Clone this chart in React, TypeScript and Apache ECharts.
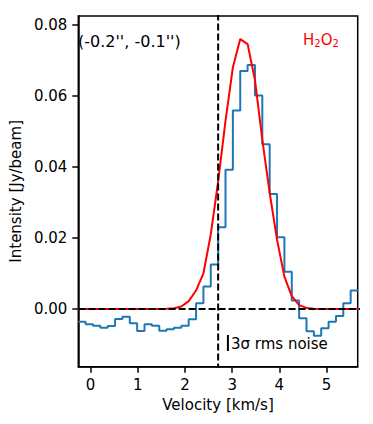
import React, { useEffect, useRef } from "react";
import * as echarts from "echarts";

// channel left edges (km/s)
const velocity = [
  -0.261, -0.105, 0.051, 0.207, 0.363, 0.519, 0.675, 0.831, 0.987, 1.143,
  1.299, 1.455, 1.611, 1.767, 1.923, 2.079, 2.235, 2.391, 2.547, 2.703,
  2.859, 3.015, 3.171, 3.327, 3.483, 3.639, 3.795, 3.951, 4.107, 4.263,
  4.419, 4.575, 4.731, 4.887, 5.043, 5.199, 5.355, 5.511, 5.667,
];

// observed spectrum (Jy/beam)
const observed = [
  -0.0036, -0.0043, -0.0047, -0.0053, -0.0048, -0.0028, -0.0022, -0.004, -0.0062, -0.0043,
  -0.0047, -0.0061, -0.0057, -0.0053, -0.0047, -0.0029, 0.0016, 0.0063, 0.0125, 0.023,
  0.0392, 0.0559, 0.067, 0.0687, 0.0601, 0.0464, 0.0324, 0.0202, 0.0105, 0.0024,
  -0.0026, -0.0063, -0.0075, -0.0054, -0.0036, -0.002, 0.0016, 0.0052, 0.0052,
];

// model fit (Jy/beam)
const model = [
  0, 0, 0, 0, 0, 0, 0, 0, 0, 0,
  0, 0, 0.00005, 0.0002, 0.0007, 0.0022, 0.0052, 0.010, 0.021, 0.0359,
  0.053, 0.068, 0.076, 0.0746, 0.0645, 0.0476, 0.0327, 0.0195, 0.0091, 0.0036,
  0.0011, 0.0003, 0.0001, 0, 0, 0, 0, 0, 0,
];

const systemicVelocity = 2.703;
const zeroLevel = 0;
const noiseBarX = 2.91;
const noiseBarTop = -0.0073;
const noiseBarBottom = -0.0118;

const xTicks = [0, 1, 2, 3, 4, 5];
const yTicks = [0, 0.02, 0.04, 0.06, 0.08];

const FONT = "DejaVu Sans";

export default function App() {
  const ref = useRef<HTMLDivElement>(null);
  useEffect(() => {
    if (!ref.current) return;
    const chart = echarts.init(ref.current, null, { renderer: "svg" });
    const obsData = velocity.map((v, i) => [v, observed[i]]);
    const modData = velocity.map((v, i) => [v, model[i]]);
    chart.setOption({
      animation: false,
      backgroundColor: "#fff",
      grid: {
        left: 74.5,
        top: 16,
        right: 15.3,
        bottom: 57.3,
        show: true,
        borderColor: "#000",
        borderWidth: 1.5,
        backgroundColor: "transparent",
        containLabel: false,
      },
      xAxis: {
        type: "value",
        min: -0.26,
        max: 5.66,
        name: "Velocity [km/s]",
        nameLocation: "middle",
        nameGap: 30,
        nameTextStyle: { fontFamily: FONT, fontSize: 15, color: "#000" },
        axisLine: { show: true, onZero: false, lineStyle: { color: "#000", width: 1.5 } },
        splitLine: { show: false },
        axisTick: {
          show: true,
          inside: false,
          length: 6,
          lineStyle: { color: "#000", width: 1.5 },
          customValues: xTicks,
        },
        axisLabel: {
          fontFamily: FONT,
          fontSize: 15,
          color: "#000",
          margin: 11,
          customValues: xTicks,
          formatter: (v: number) => String(v),
        },
      },
      yAxis: {
        type: "value",
        min: -0.01625,
        max: 0.0825,
        name: "Intensity [Jy/beam]",
        nameLocation: "middle",
        nameGap: 51,
        nameRotate: 90,
        nameTextStyle: { fontFamily: FONT, fontSize: 15, color: "#000" },
        axisLine: { show: true, onZero: false, lineStyle: { color: "#000", width: 1.5 } },
        splitLine: { show: false },
        axisTick: {
          show: true,
          inside: false,
          length: 6,
          lineStyle: { color: "#000", width: 1.5 },
          customValues: yTicks,
        },
        axisLabel: {
          fontFamily: FONT,
          fontSize: 15,
          color: "#000",
          margin: 11,
          customValues: yTicks,
          formatter: (v: number) => v.toFixed(2),
        },
      },
      series: [
        {
          type: "line",
          data: obsData,
          step: "end",
          symbol: "none",
          lineStyle: { color: "#1f77b4", width: 2 },
          z: 2,
        },
        {
          type: "line",
          data: modData,
          symbol: "none",
          lineStyle: { color: "#ff0000", width: 2 },
          z: 3,
        },
        {
          type: "line",
          data: [
            [systemicVelocity, -1],
            [systemicVelocity, 1],
          ],
          symbol: "none",
          lineStyle: { color: "#000", width: 2, type: [7, 3] },
          z: 5,
        },
        {
          type: "line",
          data: [
            [-10, zeroLevel],
            [10, zeroLevel],
          ],
          symbol: "none",
          lineStyle: { color: "#000", width: 2, type: [7, 3] },
          z: 5,
        },
        {
          type: "line",
          data: [
            [noiseBarX, noiseBarTop],
            [noiseBarX, noiseBarBottom],
          ],
          symbol: "none",
          lineStyle: { color: "#000", width: 2 },
          z: 5,
        },
      ],
      graphic: [
        {
          type: "text",
          left: 78,
          top: 33,
          style: {
            text: "(-0.2'', -0.1'')",
            fontFamily: FONT,
            fontSize: 16,
            fill: "#000",
          },
        },
        {
          type: "text",
          left: 303,
          top: 32,
          style: {
            text: "H{s|2}O{s|2}",
            fontFamily: FONT,
            fontSize: 15,
            fill: "#ff0000",
            rich: {
              s: {
                fontFamily: FONT,
                fontSize: 10,
                fill: "#ff0000",
                padding: [8, 0, 0, 0],
              },
            },
          },
        },
        {
          type: "text",
          left: 231,
          top: 336,
          style: {
            text: "3σ rms noise",
            fontFamily: FONT,
            fontSize: 15,
            fill: "#000",
          },
        },
      ],
    });
    return () => chart.dispose();
  }, []);
  return (
    <div
      ref={ref}
      style={{ position: "absolute", left: 0, top: 0, width: 373, height: 424 }}
    />
  );
}
